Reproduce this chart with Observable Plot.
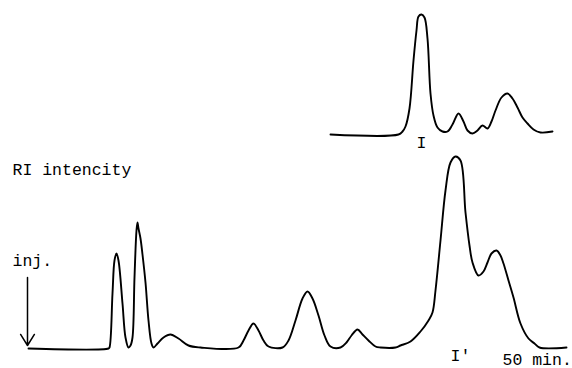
<!DOCTYPE html>
<html><head><meta charset="utf-8">
<script src="https://cdn.jsdelivr.net/npm/d3@7"></script>
<script src="https://cdn.jsdelivr.net/npm/@observablehq/plot@0.6"></script>
<style>html,body{margin:0;padding:0;background:#fff;}</style>
</head><body><div id="chart"></div>
<script>
// Main chromatogram (time in min, RI signal in arbitrary units)
const mainTime   = [0, 8.0, 8.1, 8.4, 8.6, 8.8, 9.0, 9.4, 9.7, 10.0, 10.2, 10.4, 10.6, 10.8, 10.9, 11.0, 11.2, 11.4, 11.7, 12.0, 12.3, 12.5, 12.9, 13.5, 14.2, 15.0, 16.0, 17.2, 21.0, 21.5, 22.0, 22.5, 23.0, 23.5, 24.0, 25.4, 26.0, 26.7, 27.4, 27.9, 28.4, 29.0, 29.6, 30.2, 31.2, 31.8, 32.3, 32.9, 33.4, 34.0, 34.7, 35.2, 36.7, 37.2, 38.2, 39.2, 40.0, 40.4, 40.7, 41.2, 41.7, 42.2, 42.7, 43.2, 43.7, 44.1, 44.4, 45.0, 45.5, 45.9, 46.3, 46.8, 47.2, 47.5, 48.0, 48.5, 49.2, 50.0, 50.6, 51.1, 53.8];
const mainSignal = [0, 0, 0.5, 27.5, 44, 47.5, 44, 22.5, 5.5, 0.5, 1.5, 5.5, 35.5, 59, 63, 60, 55, 47, 33, 14, 2.5, 0.5, 2.5, 5.5, 7, 5, 1.5, 0.5, 0.5, 4, 9, 12.5, 9, 4, 1, 0.5, 4, 14, 25, 28.5, 25, 16.5, 6.5, 1, 0.5, 3, 6.5, 9.5, 7, 4, 1, 0.5, 0.5, 1.5, 3.5, 8.5, 14, 18, 29, 54, 79, 93, 96, 94, 68, 51.5, 43, 36.5, 38.5, 43, 47.5, 49, 46.5, 42.5, 34, 25.5, 12.5, 5, 2.5, 0.5, 0.5];

// Inset chromatogram (peak I), drawn above with its own baseline
const insetTime   = [30.2, 37.0, 37.4, 37.7, 38.1, 38.5, 38.8, 39.0, 39.3, 39.6, 39.9, 40.2, 40.5, 40.9, 41.4, 41.9, 42.4, 43.0, 43.5, 43.9, 44.4, 44.9, 45.4, 45.9, 46.3, 46.7, 47.3, 47.9, 48.4, 48.9, 49.4, 49.9, 50.5, 51.2, 52.4];
const insetSignal = [0, 0, 1.5, 4, 13, 37, 52, 59, 60, 58.5, 48, 20.5, 9.5, 3.5, 1.5, 1.5, 5, 10.5, 6.5, 2, 0.5, 2, 4.5, 3, 6.5, 12, 18.5, 20.5, 18, 13.5, 8.5, 5.5, 2.5, 1, 1.5];
const insetBaseline = 107;

// Injection marker
const injectionTime = [-0.1];
const injectionFrom = [35.5];
const injectionTo   = [1.5];

// Text labels
const labelText   = ["RI intencity", "inj.", "I", "I'", "50 min."];
const labelTime   = [-1.6, -1.6, 39.3, 42.2, 47.4];
const labelSignal = [87, 41.5, 100.5, -6, -8];
const labelAnchor = ["start", "start", "middle", "start", "start"];

const mainData  = mainTime.map((t, i) => ({t, v: mainSignal[i]}));
const insetData = insetTime.map((t, i) => ({t, v: insetSignal[i]}));
const arrowData = injectionTime.map((t, i) => ({t, v1: injectionFrom[i], v2: injectionTo[i]}));
const labelData = labelText.map((s, i) => ({s, t: labelTime[i], v: labelSignal[i], a: labelAnchor[i]}));

const font = "'Liberation Mono', 'Courier New', monospace";

const chart = Plot.plot({
  width: 572,
  height: 368,
  margin: 0,
  style: {background: "#fff", fontFamily: font},
  x: {domain: [-2.8, 54.4], range: [0, 572], axis: null},
  y: {domain: [0, 174], range: [348, 0], axis: null},
  marks: [
    Plot.line(mainData, {x: "t", y: "v", curve: "catmull-rom", stroke: "#000", strokeWidth: 1.9}),
    Plot.line(insetData, {x: "t", y: d => d.v + insetBaseline, curve: "catmull-rom", stroke: "#000", strokeWidth: 1.9}),
    Plot.arrow(arrowData, {x1: "t", y1: "v1", x2: "t", y2: "v2", stroke: "#000", strokeWidth: 1.5, headLength: 13, headAngle: 64}),
    ...["start", "middle"].map(a => Plot.text(labelData.filter(d => d.a === a), {
      x: "t", y: "v", text: "s", textAnchor: a, lineAnchor: "bottom",
      fontSize: 16.5, fill: "#000", fontFamily: font
    }))
  ]
});
document.getElementById("chart").appendChild(chart);
</script>
</body></html>
